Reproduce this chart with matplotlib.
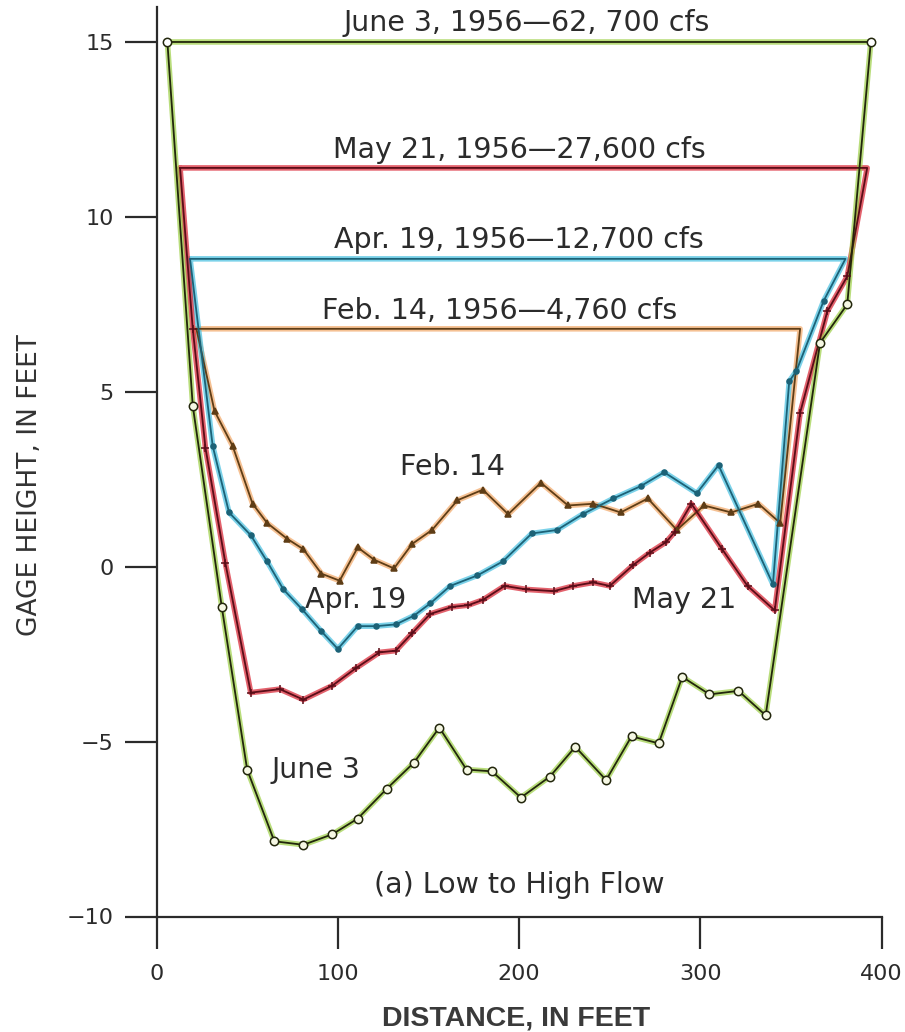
import numpy as np
import matplotlib
matplotlib.use("Agg")
from matplotlib import pyplot as plt

plt.rcParams['font.family'] = ['DejaVu Sans']

# cross-section profiles (distance in feet, gage height in feet)
jun_x = [6, 20, 36, 50, 65, 81, 97, 111, 127, 142, 156, 171, 185, 201, 217, 231,
         248, 262, 277, 290, 305, 321, 336, 366, 381, 394]
jun_y = [15.0, 4.6, -1.15, -5.8, -7.85, -7.95, -7.65, -7.2, -6.35, -5.6, -4.6, -5.8,
         -5.85, -6.6, -6.0, -5.15, -6.1, -4.85, -5.05, -3.15, -3.65, -3.55, -4.25,
         6.4, 7.5, 15.0]

may_x = [13, 20, 27, 38, 52, 68, 81, 97, 110, 123, 132, 141, 151, 163, 172, 180,
         192, 204, 219, 230, 241, 250, 263, 272, 281, 286, 295, 312, 326, 341,
         355, 370, 381, 392]
may_y = [11.4, 6.8, 3.4, 0.1, -3.6, -3.5, -3.8, -3.4, -2.9, -2.45, -2.4, -1.9,
         -1.35, -1.15, -1.1, -0.95, -0.55, -0.65, -0.7, -0.55, -0.45, -0.55, 0.05,
         0.4, 0.7, 1.0, 1.8, 0.5, -0.55, -1.25, 4.4, 7.3, 8.3, 11.4]

apr_x = [18.5, 31, 40, 52, 61, 70, 80, 91, 100, 111, 121, 132, 142, 151, 162, 177,
         191, 207, 221, 235, 252, 267, 280, 298, 310, 340, 349, 353, 368, 380]
apr_y = [8.8, 3.45, 1.55, 0.9, 0.15, -0.65, -1.2, -1.85, -2.35, -1.7, -1.7, -1.65,
         -1.4, -1.05, -0.55, -0.25, 0.15, 0.95, 1.05, 1.5, 1.95, 2.3, 2.7, 2.1, 2.9,
         -0.5, 5.3, 5.6, 7.6, 8.8]

feb_x = [22, 32, 42, 53, 61, 72, 81, 91, 101, 111, 120, 131, 141, 152, 166, 180,
         194, 212, 227, 241, 256, 271, 287, 302, 317, 332, 344, 355]
feb_y = [6.8, 4.45, 3.45, 1.8, 1.25, 0.8, 0.5, -0.2, -0.4, 0.55, 0.2, -0.05, 0.65,
         1.05, 1.9, 2.2, 1.5, 2.4, 1.75, 1.8, 1.55, 1.95, 1.05, 1.75, 1.55, 1.8,
         1.25, 6.8]

stage_labels = ["June 3, 1956\u201462, 700 cfs", "May 21, 1956\u201427,600 cfs",
                "Apr. 19, 1956\u201412,700 cfs", "Feb. 14, 1956\u20144,760 cfs"]
short_labels = ["June 3", "May 21", "Apr. 19", "Feb. 14"]

fig = plt.figure(figsize=(9.05, 10.32), dpi=100)
ax = fig.add_axes([156.5 / 905, 115.5 / 1032, 725.2 / 905, 909.5 / 1032])

ink = '#2b2b2b'


def draw(xs, ys, hi, dark, marker, ms, mfc):
    # close the section with the water surface line
    px = list(xs) + [xs[0]]
    py = list(ys) + [ys[0]]
    ax.plot(px, py, color=hi, lw=4, alpha=0.7, solid_capstyle='round', zorder=2)
    ax.plot(px, py, color=dark, lw=1.3, zorder=3)
    ax.plot(xs[1:-1], ys[1:-1], ls='none', marker=marker, ms=ms, mfc=mfc,
            mec=dark, mew=1.1, zorder=4)


draw(feb_x, feb_y, '#f2a766', '#5e3d16', '^', 4.2, '#5e3d16')
draw(apr_x, apr_y, '#45bfe0', '#1c6277', 'o', 3.6, '#1c6277')
draw(may_x, may_y, '#d8202f', '#5a0d18', '+', 5.5, '#5a0d18')
draw(jun_x, jun_y, '#9ccf45', '#22260c', 'o', 6, '#f6f8e4')
ax.plot([jun_x[0], jun_x[-1]], [jun_y[0], jun_y[-1]], ls='none', marker='o', ms=6,
        mfc='white', mec='#22260c', mew=1.1, zorder=5)

fs = 20.5
ax.text(204, 15.55, stage_labels[0], ha='center', va='center', fontsize=fs, color=ink)
ax.text(200, 11.9, stage_labels[1], ha='center', va='center', fontsize=fs, color=ink)
ax.text(200, 9.35, stage_labels[2], ha='center', va='center', fontsize=fs, color=ink)
ax.text(189, 7.3, stage_labels[3], ha='center', va='center', fontsize=fs, color=ink)
ax.text(163, 2.85, short_labels[3], ha='center', va='center', fontsize=fs, color=ink)
ax.text(110, -0.95, short_labels[2], ha='center', va='center', fontsize=fs, color=ink)
ax.text(291, -0.95, short_labels[1], ha='center', va='center', fontsize=fs, color=ink)
ax.text(88, -5.8, short_labels[0], ha='center', va='center', fontsize=fs, color=ink)
ax.text(200, -9.1, "(a) Low to High Flow", ha='center', va='center', fontsize=fs, color=ink)

ax.set_xlim(0, 400)
ax.set_ylim(-10, 16)
ax.set_xticks([0, 100, 200, 300, 400])
ax.set_yticks([-10, -5, 0, 5, 10, 15])
ax.set_yticklabels(['\u221210', '\u22125', '0', '5', '10', '15'])
ax.tick_params(direction='out', length=23, width=1.6, color=ink, labelcolor=ink,
               labelsize=16)
ax.tick_params(axis='y', pad=8)
ax.tick_params(axis='x', pad=11)
for s in ['top', 'right']:
    ax.spines[s].set_visible(False)
for s in ['left', 'bottom']:
    ax.spines[s].set_color(ink)
    ax.spines[s].set_linewidth(1.6)

ax.set_ylabel("GAGE HEIGHT, IN FEET", fontsize=19, color='#333333', va='center', ha='center')
ax.yaxis.set_label_coords(-0.174, 0.4745)
ax.set_xlabel("DISTANCE, IN FEET", fontsize=20.5, fontweight='bold', color='#3a3a3a',
              family=['Liberation Sans'], va='center', ha='center')
ax.xaxis.set_label_coords(0.4957, -0.1116)

fig.savefig("out.png", dpi=100)
